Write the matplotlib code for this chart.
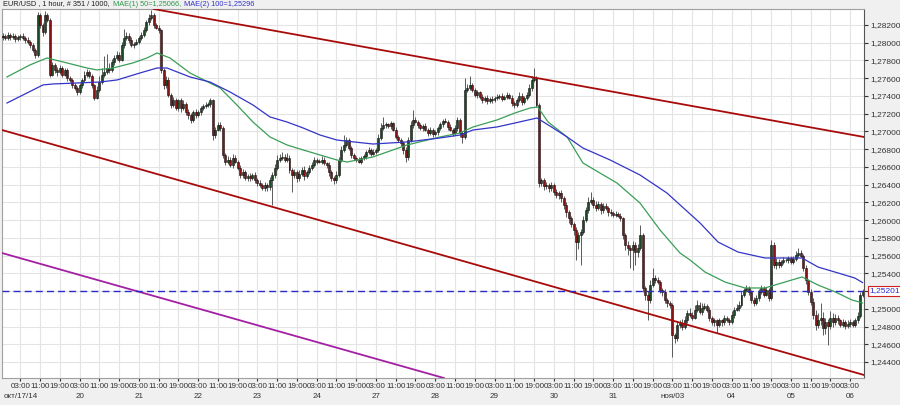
import matplotlib.pyplot as plt
import matplotlib.transforms as mtransforms
import numpy as np

plt.rcParams['font.family'] = ['Liberation Sans', 'DejaVu Sans']

# hourly EUR/USD closes, one row per trading day (first row: last bars of Oct 16)
close = [
    1.2806, 1.2808, 1.2805, 1.2809, 1.2806,
    1.2808, 1.2804, 1.2806, 1.2808, 1.2805, 1.2803, 1.2801, 1.2797, 1.2792, 1.2786, 1.2831, 1.2820,
    1.2812, 1.2831, 1.2826, 1.2764, 1.2775, 1.2769, 1.2767, 1.2772, 1.2764, 1.2769, 1.2760, 1.2758,
    1.2752, 1.2749, 1.2744, 1.2752, 1.2758, 1.2764, 1.2767, 1.2762, 1.2752, 1.2738, 1.2747, 1.2756,
    1.2764, 1.2767, 1.2772, 1.2769, 1.2778, 1.2783, 1.2786, 1.2781, 1.2797, 1.2805, 1.2808, 1.2803,
    1.2797, 1.2799, 1.2801, 1.2805, 1.2809, 1.2814, 1.2823, 1.2828, 1.2831, 1.2820, 1.2817, 1.2814,
    1.2769, 1.2752, 1.2758, 1.2741, 1.2730, 1.2735, 1.2726, 1.2735, 1.2726, 1.2731, 1.2722, 1.2718,
    1.2713, 1.2722, 1.2718, 1.2722, 1.2726, 1.2729, 1.2730, 1.2731, 1.2735, 1.2696, 1.2702, 1.2707,
    1.2704, 1.2673, 1.2666, 1.2668, 1.2662, 1.2670, 1.2666, 1.2659, 1.2651, 1.2654, 1.2647, 1.2650,
    1.2647, 1.2651, 1.2645, 1.2642, 1.2640, 1.2636, 1.2640, 1.2637, 1.2645, 1.2651, 1.2659, 1.2668,
    1.2670, 1.2671, 1.2668, 1.2670, 1.2657, 1.2651, 1.2654, 1.2647, 1.2652, 1.2657, 1.2650, 1.2654,
    1.2659, 1.2662, 1.2668, 1.2666, 1.2666, 1.2668, 1.2664, 1.2662, 1.2654, 1.2647, 1.2645, 1.2651,
    1.2668, 1.2679, 1.2685, 1.2690, 1.2681, 1.2673, 1.2670, 1.2668, 1.2666, 1.2670, 1.2672, 1.2677,
    1.2679, 1.2675, 1.2677, 1.2679, 1.2693, 1.2704, 1.2707, 1.2708, 1.2706, 1.2709, 1.2702, 1.2694,
    1.2690, 1.2687, 1.2679, 1.2671, 1.2690, 1.2707, 1.2713, 1.2711, 1.2707, 1.2704, 1.2706, 1.2702,
    1.2698, 1.2702, 1.2697, 1.2699, 1.2704, 1.2708, 1.2712, 1.2711, 1.2705, 1.2702, 1.2698, 1.2704,
    1.2713, 1.2698, 1.2694, 1.2747, 1.2749, 1.2752, 1.2747, 1.2741, 1.2744, 1.2739, 1.2735, 1.2738,
    1.2734, 1.2737, 1.2735, 1.2738, 1.2739, 1.2740, 1.2737, 1.2739, 1.2741, 1.2738, 1.2732, 1.2730,
    1.2735, 1.2740, 1.2733, 1.2738, 1.2741, 1.2749, 1.2758, 1.2760, 1.2730, 1.2642, 1.2645, 1.2638,
    1.2640, 1.2636, 1.2640, 1.2632, 1.2628, 1.2631, 1.2625, 1.2617, 1.2609, 1.2602, 1.2596, 1.2589,
    1.2575, 1.2583, 1.2587, 1.2600, 1.2611, 1.2620, 1.2623, 1.2617, 1.2614, 1.2618, 1.2611, 1.2616,
    1.2614, 1.2609, 1.2608, 1.2606, 1.2607, 1.2605, 1.2602, 1.2583, 1.2572, 1.2569, 1.2566, 1.2572,
    1.2564, 1.2569, 1.2583, 1.2523, 1.2516, 1.2510, 1.2527, 1.2535, 1.2532, 1.2530, 1.2521, 1.2519,
    1.2510, 1.2506, 1.2504, 1.2470, 1.2467, 1.2482, 1.2484, 1.2479, 1.2487, 1.2495, 1.2493, 1.2490,
    1.2499, 1.2504, 1.2496, 1.2501, 1.2503, 1.2499, 1.2490, 1.2485, 1.2487, 1.2482, 1.2487, 1.2485,
    1.2490, 1.2487, 1.2485, 1.2493, 1.2499, 1.2501, 1.2504, 1.2516, 1.2521, 1.2523, 1.2519, 1.2510,
    1.2506, 1.2512, 1.2519, 1.2523, 1.2516, 1.2521, 1.2512, 1.2572, 1.2549, 1.2553, 1.2549, 1.2553,
    1.2555, 1.2555, 1.2557, 1.2553, 1.2556, 1.2561, 1.2563, 1.2560, 1.2546, 1.2532, 1.2519, 1.2508,
    1.2493, 1.2482, 1.2487, 1.2490, 1.2478, 1.2485, 1.2481, 1.2490, 1.2485, 1.2490, 1.2487, 1.2482,
    1.2485, 1.2481, 1.2483, 1.2485, 1.2482, 1.2487, 1.2492, 1.2516, 1.25201,
]
first_open = 1.2808

# wick length above / below the body, in pips
wick_up = [
    2, 3, 2, 3, 2,
    3, 2, 3, 2, 3, 2, 3, 2, 3, 2, 4, 3, 2, 5, 3, 2, 3, 2, 4, 3, 2, 3, 2, 3,
    2, 3, 2, 3, 2, 4, 3, 2, 3, 2, 4, 6, 8, 18, 15, 5, 4, 3, 5, 3, 4, 10, 4, 3,
    3, 2, 3, 2, 3, 4, 3, 4, 6, 3, 2, 3, 2, 3, 4, 3, 2, 4, 3, 2, 3, 4, 2, 3,
    3, 2, 3, 2, 3, 2, 3, 2, 3, 2, 3, 4, 4, 2, 3, 4, 3, 4, 3, 2, 3, 4, 3, 2,
    3, 2, 3, 2, 3, 2, 3, 2, 4, 3, 4, 5, 4, 6, 3, 6, 3, 2, 4, 3, 5, 3, 4, 3,
    3, 4, 3, 2, 3, 4, 3, 2, 3, 2, 3, 4, 3, 4, 11, 4, 3, 2, 3, 2, 3, 2, 3, 2,
    3, 2, 3, 2, 4, 5, 9, 3, 2, 3, 2, 3, 2, 3, 2, 3, 4, 5, 11, 3, 2, 3, 2, 3,
    2, 3, 2, 3, 2, 3, 2, 3, 2, 3, 2, 3, 3, 2, 3, 13, 4, 10, 3, 2, 3, 2, 3, 2,
    3, 2, 3, 2, 3, 2, 3, 2, 3, 2, 3, 2, 3, 4, 3, 2, 3, 4, 5, 12, 2, 2, 3, 2,
    3, 2, 3, 2, 3, 2, 3, 2, 3, 2, 3, 2, 3, 4, 3, 5, 4, 6, 9, 3, 4, 3, 2, 3,
    3, 2, 3, 2, 3, 2, 3, 2, 3, 4, 3, 5, 3, 4, 11, 2, 3, 4, 6, 11, 3, 4, 3, 2,
    3, 2, 3, 2, 3, 4, 3, 4, 5, 4, 6, 3, 5, 6, 4, 5, 3, 2, 3, 2, 3, 2, 3, 2,
    3, 2, 3, 4, 3, 4, 5, 4, 3, 4, 3, 2, 3, 4, 3, 4, 3, 4, 3, 6, 3, 4, 3, 2,
    3, 2, 3, 2, 3, 4, 5, 3, 2, 3, 2, 3, 4, 6, 8, 17, 6, 5, 4, 8, 5, 4, 3, 2,
    3, 2, 4, 3, 2, 3, 4, 3, 2,
]
wick_dn = [
    2, 3, 2, 2, 3,
    2, 3, 2, 3, 2, 3, 2, 3, 2, 3, 2, 3, 4, 2, 3, 3, 2, 3, 4, 2, 3, 2, 3, 2,
    3, 2, 3, 2, 3, 2, 3, 2, 3, 3, 2, 3, 2, 3, 2, 3, 2, 3, 2, 3, 2, 3, 2, 3,
    2, 3, 2, 3, 2, 3, 2, 3, 2, 3, 2, 3, 3, 4, 3, 2, 4, 3, 2, 3, 4, 2, 3, 4,
    3, 2, 3, 2, 3, 2, 3, 2, 3, 6, 3, 2, 3, 3, 4, 3, 2, 3, 2, 3, 4, 3, 2, 3,
    3, 2, 3, 4, 3, 2, 3, 4, 3, 28, 3, 2, 3, 2, 3, 2, 4, 19, 3, 4, 3, 2, 5, 3,
    2, 3, 2, 3, 2, 3, 2, 3, 4, 3, 4, 3, 2, 3, 2, 3, 2, 3, 2, 3, 2, 3, 2, 3,
    2, 3, 2, 3, 2, 3, 2, 3, 2, 3, 2, 3, 2, 3, 4, 5, 3, 2, 3, 2, 3, 2, 3, 2,
    3, 2, 3, 2, 3, 2, 3, 2, 3, 2, 3, 2, 3, 4, 7, 2, 3, 2, 3, 2, 3, 2, 3, 2,
    3, 2, 3, 2, 3, 2, 3, 2, 3, 2, 3, 4, 3, 2, 3, 2, 3, 2, 3, 2, 3, 5, 3, 4,
    3, 4, 3, 4, 3, 4, 5, 4, 6, 5, 4, 6, 20, 8, 34, 3, 2, 3, 2, 3, 4, 3, 4, 3,
    3, 4, 3, 2, 3, 2, 3, 4, 6, 8, 20, 22, 15, 6, 3, 4, 6, 23, 3, 2, 3, 2, 3, 4,
    3, 4, 3, 24, 6, 3, 4, 3, 2, 3, 2, 3, 2, 3, 2, 3, 2, 3, 4, 3, 4, 9, 3, 4,
    3, 2, 3, 2, 3, 2, 3, 2, 3, 2, 3, 4, 3, 2, 3, 2, 3, 2, 3, 2, 3, 4, 3, 2,
    3, 2, 3, 2, 3, 2, 3, 2, 3, 4, 3, 4, 5, 6, 4, 5, 7, 6, 22, 4, 5, 3, 4, 3,
    3, 4, 3, 4, 3, 2, 3, 2, 3,
]

# moving averages (bar index, price)
ma50_bar = [2.6, 11.9, 18.8, 26.9, 35, 39.1, 45.5, 53.6, 59.3, 63.4, 68.6, 76.7, 84.8, 88.9,
            95.7, 102.2, 109.1, 116, 122.5, 129.4, 136.2, 140.3, 150.8, 164.6, 177.9, 186,
            191.3, 201, 208.3, 214.4, 217.5, 221.7, 229.4, 235.8, 249.6, 258.9, 267, 275.1,
            279.2, 285.2, 293.3, 301.4, 309.5, 317.6, 324.5, 331, 337.9, 344.7, 349]
ma50 = [1.27614, 1.27749, 1.27828, 1.27772, 1.27715, 1.27693, 1.27715, 1.27772, 1.27828,
        1.27884, 1.27828, 1.27659, 1.27546, 1.27490, 1.27298, 1.27106, 1.26937, 1.26847,
        1.26791, 1.26734, 1.26678, 1.26655, 1.26712, 1.26847, 1.26937, 1.26982, 1.27050,
        1.27129, 1.27208, 1.27264, 1.27275, 1.27106, 1.26937, 1.26644, 1.26418, 1.26193,
        1.25889, 1.25629, 1.25550, 1.25415, 1.25302, 1.25235, 1.25235, 1.25302, 1.25359,
        1.25268, 1.25191, 1.25100, 1.25066]
ma100_bar = [2.6, 10.7, 17.2, 21.3, 31, 40.3, 47.2, 56.5, 63.4, 67.4, 76.7, 84.8, 92.9, 102.2,
             109.1, 116, 122.5, 129.4, 136.2, 139.5, 150.8, 164.6, 177.9, 186, 191.3, 201,
             208.3, 217.2, 223.7, 229.4, 235.8, 246.8, 258.9, 269.8, 283.2, 290.5, 298.6,
             309.5, 317.6, 324.5, 331, 339.1, 345.9, 349]
ma100 = [1.27320, 1.27433, 1.27524, 1.27535, 1.27546, 1.27557, 1.27580, 1.27659, 1.27715,
         1.27715, 1.27614, 1.27557, 1.27445, 1.27298, 1.27163, 1.27106, 1.27039, 1.26959,
         1.26903, 1.26892, 1.26858, 1.26881, 1.26926, 1.26959, 1.27016, 1.27050, 1.27095,
         1.27151, 1.27039, 1.26937, 1.26813, 1.26678, 1.26509, 1.26306, 1.25968, 1.25753,
         1.25640, 1.25573, 1.25573, 1.25573, 1.25471, 1.25404, 1.25347, 1.25296]

# trend lines: two anchor points each (bar index, price)
upper_line = ((68.6, 1.28347), (349.6, 1.26937))
lower_line = ((0.6, 1.27016), (349.6, 1.24254))
purple_line = ((0.6, 1.25629), (176.7, 1.24242))
last_price = 1.25201

lead_bars = 5  # bars of Oct 16 before the first labelled day
days = ['окт/17/14', '20', '21', '22', '23', '24', '27', '28', '29', '30', '31',
        'ноя/03', '04', '05', '06']
hours = [3, 11, 19]

close = np.array(close)
opens = np.concatenate([[first_open], close[:-1]])
top = np.maximum(opens, close)
bot = np.minimum(opens, close)
high = top + np.array(wick_up) * 0.0001
low = bot - np.array(wick_dn) * 0.0001
x = np.arange(len(close))

W, H = 900, 405
fig = plt.figure(figsize=(W / 100, H / 100), dpi=100, facecolor='#f0f0f0')
ax = fig.add_axes([2 / W, 1 - 378 / H, 862 / W, 369 / H])
ax.set_facecolor('white')
ax.set_xlim(0.6, 349.6)
ax.set_ylim(1.24220, 1.28380)

ax.vlines(x, low, high, color='#5a5a5a', linewidth=0.7, zorder=3)
up = close >= opens
body_h = np.maximum(top - bot, 0.00004)
ax.bar(x[up], body_h[up], bottom=bot[up], width=0.8, color='#1c4a26',
       edgecolor='#101010', linewidth=0.4, zorder=4)
ax.bar(x[~up], body_h[~up], bottom=bot[~up], width=0.8, color='#861414',
       edgecolor='#101010', linewidth=0.4, zorder=4)

ax.plot(ma50_bar, ma50, color='#3a9e57', linewidth=0.9, zorder=5)
ax.plot(ma100_bar, ma100, color='#3434c8', linewidth=0.9, zorder=5)

ax.axline(*upper_line, color='#a80a0a', linewidth=1.3, zorder=6)
ax.axline(*lower_line, color='#a80a0a', linewidth=1.3, zorder=6)
ax.axline(*purple_line, color='#a31fa3', linewidth=1.3, zorder=6)
ax.axhline(last_price, color='#2a2ac8', linewidth=1.0, linestyle=(0, (5, 3)), zorder=6)

# right price axis
ax.yaxis.tick_right()
yt = np.arange(1.244, 1.2821, 0.002)
ax.set_yticks(yt)
ax.set_yticklabels([f'{v:.5f}'.replace('.', ',') for v in yt])
ax.tick_params(axis='y', labelsize=6, colors='#333333', length=3, pad=1.5)

# time axis
tick_bars, tick_labels, day_bars = [], [], []
for d, name in enumerate(days):
    base = lead_bars + 24 * d
    day_bars.append(base + 3)
    for h in hours:
        if base + h < len(close):
            tick_bars.append(base + h)
            tick_labels.append(f'{h:02d}:00')
ax.set_xticks(tick_bars)
ax.set_xticklabels(tick_labels)
ax.tick_params(axis='x', labelsize=5.8, colors='#333333', length=2, pad=1.5)
trans = mtransforms.blended_transform_factory(ax.transData, fig.transFigure)
for b, name in zip(day_bars, days):
    ax.text(b, 1 - 397 / H, name, transform=trans, ha='center', va='center',
            fontsize=5.8, color='#333333')

ax.grid(True, color='#e4e4e4', linewidth=0.8, zorder=0)
ax.set_axisbelow(True)
for side in ['top', 'left', 'bottom']:
    ax.spines[side].set_color('#a0a0a0')
ax.spines['right'].set_color('#555555')

# last price tag
ax.text(1.006, last_price, f'{last_price:.5f}'.replace('.', ','),
        transform=mtransforms.blended_transform_factory(ax.transAxes, ax.transData),
        ha='left', va='center', fontsize=6, color='#2a2ac8',
        bbox=dict(boxstyle='square,pad=0.15', facecolor='white', edgecolor='#d02020', linewidth=0.8))

# header
r = fig.canvas.get_renderer()
parts = [('EUR/USD , 1 hour, # 351 / 1000, ', '#202020'),
         ('MAE(1) 50=1,25066, ', '#2e9a4a'),
         ('MAE(2) 100=1,25296', '#3434c8')]
px = 3
for s, col in parts:
    t = fig.text(px / W, 1 - 0.5 / H, s, color=col, fontsize=5.3, va='top', ha='left')
    px = t.get_window_extent(r).x1 + 1

fig.savefig('out.png', dpi=100, facecolor=fig.get_facecolor())
